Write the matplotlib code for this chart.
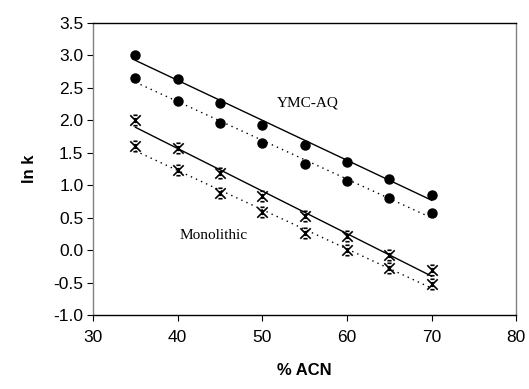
import numpy as np
import matplotlib
matplotlib.use("Agg")
import matplotlib.pyplot as plt
from matplotlib.path import Path

acn = [35, 40, 45, 50, 55, 60, 65, 70]
ymc_a = [3.00, 2.63, 2.27, 1.93, 1.62, 1.35, 1.09, 0.85]
ymc_b = [2.65, 2.30, 1.95, 1.65, 1.33, 1.06, 0.80, 0.57]
mono_a = [2.00, 1.57, 1.18, 0.83, 0.52, 0.22, -0.07, -0.30]
mono_b = [1.60, 1.23, 0.88, 0.58, 0.27, 0.00, -0.28, -0.52]
xticks = [30, 40, 50, 60, 70, 80]
yticks = [-1.0, -0.5, 0.0, 0.5, 1.0, 1.5, 2.0, 2.5, 3.0, 3.5]

star = Path([(-1, -1), (1, 1), (-1, 1), (1, -1),
             (-0.4, 1), (0.4, 1), (-0.4, -1), (0.4, -1),
             (0, 0.5), (0, -0.5)],
            [Path.MOVETO, Path.LINETO, Path.MOVETO, Path.LINETO,
             Path.MOVETO, Path.LINETO, Path.MOVETO, Path.LINETO,
             Path.MOVETO, Path.LINETO])

fig = plt.figure(figsize=(5.29, 3.89), dpi=100)
ax = fig.add_axes([0.176, 0.190, 0.800, 0.752])

x = np.array(acn, dtype=float)
series = [(ymc_a, 'o', '-'), (ymc_b, 'o', (0, (1, 3))),
          (mono_a, 'x', '-'), (mono_b, 'x', (0, (1, 3)))]
for ys, mk, ls in series:
    y = np.array(ys)
    p = np.polyfit(x, y, 1)
    ax.plot(x, np.polyval(p, x), color='black', lw=1.0, linestyle=ls)
    if mk == 'o':
        ax.plot(x, y, 'o', color='black', ms=6.5, ls='none')
    else:
        ax.plot(x, y, marker=star, color='black', ms=7.5, mew=1.2, ls='none')

ax.set_xlim(30, 80)
ax.set_ylim(-1.0, 3.5)
ax.set_xticks(xticks)
ax.set_yticks(yticks)
ax.set_yticklabels([f"{v:.1f}" for v in yticks])
ax.tick_params(direction='out', length=4, width=0.8, labelsize=12.5,
               colors='black', pad=3)
for lab in ax.get_xticklabels() + ax.get_yticklabels():
    lab.set_family('Liberation Sans')
ax.tick_params(axis='x', pad=7)
for s in ['left', 'right']:
    ax.spines[s].set_color('#808080')
for s in ['top', 'bottom']:
    ax.spines[s].set_color('black')
for s in ax.spines.values():
    s.set_linewidth(1.0)

ax.set_xlabel('% ACN', family='Liberation Sans', fontweight='bold', fontsize=12, labelpad=13)
ax.set_ylabel('ln k', family='Liberation Sans', fontweight='bold', fontsize=12, labelpad=12)

ax.text(55.4, 2.27, 'YMC-AQ', family='Liberation Serif', fontsize=11,
        ha='center', va='center')
ax.text(44.2, 0.23, 'Monolithic', family='Liberation Serif', fontsize=11,
        ha='center', va='center')

fig.savefig('out.png', dpi=100)
